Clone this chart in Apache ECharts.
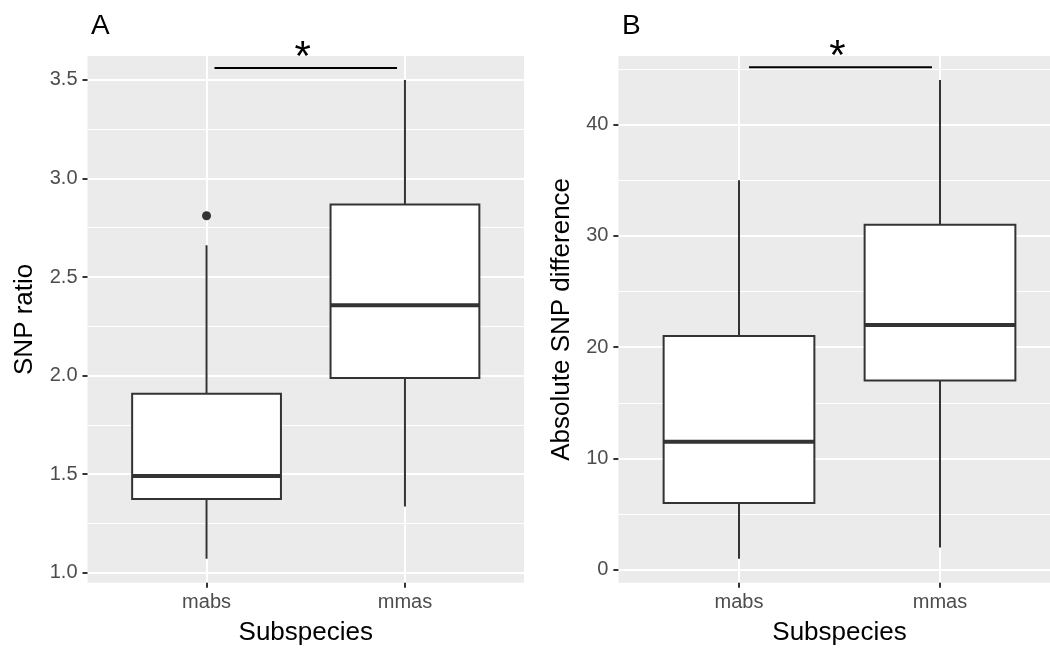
<!DOCTYPE html>
<html>
<head>
<meta charset="utf-8">
<script src="https://cdn.jsdelivr.net/npm/echarts@6/dist/echarts.min.js"></script>
<style>
html, body { margin: 0; padding: 0; background: #fff; }
#chart_id { width: 1050px; height: 652px; }
</style>
</head>
<body>
<div id="chart_id"></div>
<script>
// categories on the x axis (positions 1 and 2, like ggplot)
var categories = ['mabs', 'mmas'];

// box statistics: [lower whisker, Q1, median, Q3, upper whisker]
var ratioStats = [
    [1.07, 1.373, 1.49, 1.907, 2.661],
    [1.335, 1.987, 2.357, 2.868, 3.5]
];
var ratioOutliers = [[1, 2.811]];
var diffStats = [
    [1, 6, 11.5, 21, 35],
    [2, 17, 22, 31, 44]
];
var diffOutliers = [];

// tick values
var ratioTicks = [1.0, 1.5, 2.0, 2.5, 3.0, 3.5];
var ratioMinor = [1.25, 1.75, 2.25, 2.75, 3.25];
var diffTicks = [0, 10, 20, 30, 40];
var diffMinor = [5, 15, 25, 35, 45];

// significance bracket: [from, to, height]
var ratioSig = [[1.04, 1.96, 3.56]];
var diffSig = [[1.05, 1.96, 45.15]];

var FONT = '"Liberation Sans", Arial, sans-serif';
var INK = '#333333';

$chartInit();

function $chartInit() {
    var myChart = echarts.init(document.getElementById('chart_id'), null, {renderer: 'canvas'});
    var option = {
        animation: false,
        backgroundColor: '#ffffff',
        textStyle: {fontFamily: FONT},
        title: [
            {text: 'A', left: 86, top: 7, textStyle: {fontSize: 28, fontWeight: 'normal', color: '#000', fontFamily: FONT}},
            {text: 'B', left: 617, top: 7, textStyle: {fontSize: 28, fontWeight: 'normal', color: '#000', fontFamily: FONT}}
        ],
        grid: [
            {left: 87.5, right: 526, top: 56, bottom: 69.3, show: true, backgroundColor: '#EBEBEB', borderWidth: 0, outerBoundsMode: 'none', containLabel: false},
            {left: 618.4, right: -10.6, top: 56, bottom: 69.3, show: true, backgroundColor: '#EBEBEB', borderWidth: 0, outerBoundsMode: 'none', containLabel: false}
        ],
        xAxis: [xAxisOpt(0), xAxisOpt(1)],
        yAxis: [
            yAxisOpt(0, 0.9485, 3.6215, ratioTicks, 'SNP ratio', 49.5, function (v) { return v.toFixed(1); }),
            yMinorOpt(0, 0.9485, 3.6215, ratioMinor),
            yAxisOpt(1, -1.15, 46.15, diffTicks, 'Absolute SNP difference', 43.5, function (v) { return String(Math.round(v)); }),
            yMinorOpt(1, -1.15, 46.15, diffMinor)
        ],
        series: [
            boxSeries(0, 0, ratioStats),
            pointSeries(0, 0, ratioOutliers),
            sigSeries(0, 0, ratioSig),
            boxSeries(1, 2, diffStats),
            pointSeries(1, 2, diffOutliers),
            sigSeries(1, 2, diffSig)
        ]
    };
    myChart.setOption(option, true);
}

function xAxisOpt(idx) {
    return {
        type: 'value',
        gridIndex: idx,
        position: 'bottom',
        min: 0.4,
        max: 2.6,
        name: 'Subspecies',
        nameLocation: 'middle',
        nameGap: 37,
        nameTextStyle: {fontSize: 26, color: '#000', fontFamily: FONT},
        axisLine: {show: false, onZero: false},
        axisTick: {show: true, length: 5, customValues: [1, 2], lineStyle: {color: INK, width: 2}},
        axisLabel: {
            show: true, customValues: [1, 2], margin: 10, fontSize: 20, color: '#4D4D4D', fontFamily: FONT,
            formatter: function (v) { return categories[Math.round(v) - 1]; }
        },
        splitLine: {show: true, lineStyle: {color: '#ffffff', width: 2}}
    };
}

function yAxisOpt(idx, min, max, ticks, name, gap, fmt) {
    return {
        type: 'value',
        gridIndex: idx,
        position: 'left',
        min: min,
        max: max,
        name: name,
        nameLocation: 'middle',
        nameGap: gap,
        nameRotate: 90,
        nameTextStyle: {fontSize: 26, color: '#000', fontFamily: FONT},
        axisLine: {show: false, onZero: false},
        axisTick: {show: true, length: 5, customValues: ticks, lineStyle: {color: INK, width: 2}},
        axisLabel: {show: true, customValues: ticks, margin: 10, fontSize: 20, color: '#4D4D4D', fontFamily: FONT, formatter: fmt},
        splitLine: {show: true, lineStyle: {color: '#ffffff', width: 2}},
        z: 1
    };
}

function yMinorOpt(idx, min, max, ticks) {
    return {
        type: 'value',
        gridIndex: idx,
        position: 'left',
        min: min,
        max: max,
        axisLine: {show: false, onZero: false},
        axisTick: {show: false, customValues: ticks},
        axisLabel: {show: false, customValues: ticks},
        splitLine: {show: true, lineStyle: {color: '#ffffff', width: 1}},
        z: 0
    };
}

function boxSeries(gridIdx, yIdx, stats) {
    var datas = [];
    for (var i = 0, lens = stats.length; i < lens; i++) {
        datas[i] = [i + 1].concat(stats[i]);
    }
    return {
        type: 'custom',
        xAxisIndex: gridIdx,
        yAxisIndex: yIdx,
        data: datas,
        z: 5,
        renderItem: function (params, api) {
            var x = api.value(0);
            var lo = api.coord([x, api.value(1)]);
            var q1 = api.coord([x, api.value(2)]);
            var med = api.coord([x, api.value(3)]);
            var q3 = api.coord([x, api.value(4)]);
            var hi = api.coord([x, api.value(5)]);
            var left = api.coord([x - 0.375, api.value(3)])[0];
            var right = api.coord([x + 0.375, api.value(3)])[0];
            var line = {stroke: INK, lineWidth: 2};
            return {
                type: 'group',
                children: [
                    {type: 'line', shape: {x1: lo[0], y1: lo[1], x2: q1[0], y2: q1[1]}, style: line},
                    {type: 'line', shape: {x1: q3[0], y1: q3[1], x2: hi[0], y2: hi[1]}, style: line},
                    {type: 'rect', shape: {x: left, y: q3[1], width: right - left, height: q1[1] - q3[1]}, style: {fill: '#ffffff', stroke: INK, lineWidth: 2}},
                    {type: 'line', shape: {x1: left, y1: med[1], x2: right, y2: med[1]}, style: {stroke: INK, lineWidth: 4}}
                ]
            };
        }
    };
}

function pointSeries(gridIdx, yIdx, points) {
    return {
        type: 'scatter',
        xAxisIndex: gridIdx,
        yAxisIndex: yIdx,
        data: points,
        symbol: 'circle',
        symbolSize: 9,
        itemStyle: {color: INK, opacity: 1},
        z: 6
    };
}

function sigSeries(gridIdx, yIdx, bracket) {
    return {
        type: 'custom',
        xAxisIndex: gridIdx,
        yAxisIndex: yIdx,
        data: bracket,
        clip: false,
        z: 7,
        renderItem: function (params, api) {
            var a = api.coord([api.value(0), api.value(2)]);
            var b = api.coord([api.value(1), api.value(2)]);
            return {
                type: 'group',
                children: [
                    {type: 'line', shape: {x1: a[0], y1: a[1], x2: b[0], y2: b[1]}, style: {stroke: '#000', lineWidth: 2}},
                    {type: 'text', x: (a[0] + b[0]) / 2 - 3, y: a[1] - 10,
                        style: {text: '*', fontSize: 42, fontFamily: FONT, fill: '#000', align: 'center', verticalAlign: 'middle'}}
                ]
            };
        }
    };
}
</script>
</body>
</html>
